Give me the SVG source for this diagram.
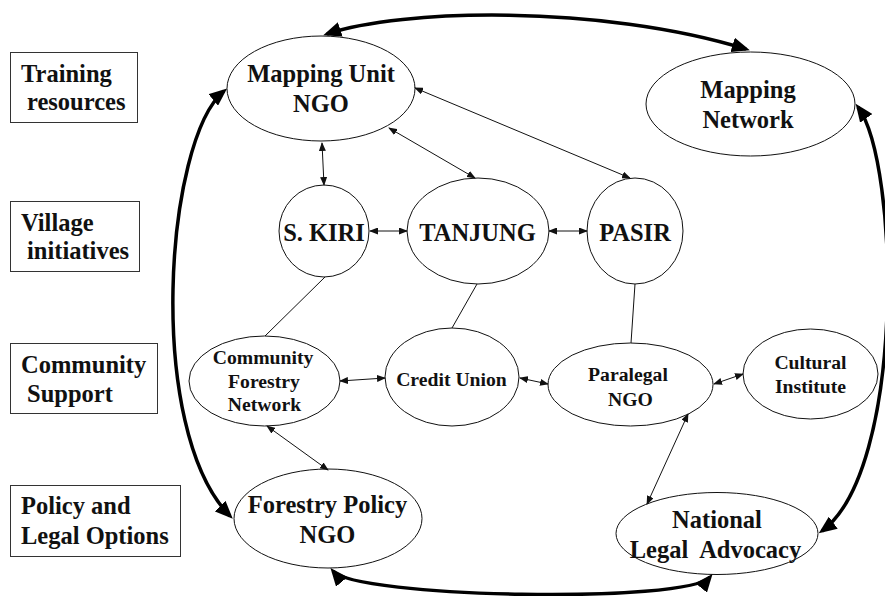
<svg xmlns="http://www.w3.org/2000/svg" width="885" height="596" viewBox="0 0 885 596">
  <style>
    .bg { fill: #ffffff; }
    .lane rect { fill: #ffffff; stroke: #333333; stroke-width: 1; }
    .lane text { font-family: "Liberation Serif", "Times New Roman", serif; font-weight: bold; font-size: 24.5px; fill: #111111; }
    .node ellipse { fill: #ffffff; stroke: #111111; stroke-width: 1; }
    .node text { font-family: "Liberation Serif", "Times New Roman", serif; font-weight: bold; fill: #111111; text-anchor: middle; }
    .big text { font-size: 24.5px; }
    .small text { font-size: 19.7px; }
    .link { fill: none; stroke: #111111; stroke-width: 1; }
    .arrow2 { marker-start: url(#tip); marker-end: url(#tip); }
    .flow { fill: none; stroke: #000000; stroke-width: 3.5; marker-start: url(#bigtip); marker-end: url(#bigtip); }
  </style>
  <defs>
    <marker id="tip" markerUnits="userSpaceOnUse" markerWidth="9" markerHeight="7" refX="8" refY="3.5" orient="auto-start-reverse">
      <path d="M0,0 L9,3.5 L0,7 z" fill="#111111"/>
    </marker>
    <marker id="bigtip" markerUnits="userSpaceOnUse" markerWidth="18" markerHeight="15" refX="14" refY="7.5" orient="auto-start-reverse">
      <path d="M0,0 L18,7.5 L0,15 z" fill="#000000"/>
    </marker>
  </defs>

  <rect class="bg" x="0" y="0" width="885" height="596"/>

  <!-- row labels -->
  <g id="lane-training" class="lane">
    <rect x="10.5" y="52.5" width="127" height="70"/>
    <text x="21" y="82">Training</text>
    <text x="27" y="110">resources</text>
  </g>
  <g id="lane-village" class="lane">
    <rect x="10.5" y="201.5" width="129" height="70"/>
    <text x="21" y="231">Village</text>
    <text x="27" y="259">initiatives</text>
  </g>
  <g id="lane-community" class="lane">
    <rect x="10.5" y="343.5" width="147" height="70"/>
    <text x="21" y="373">Community</text>
    <text x="27" y="402">Support</text>
  </g>
  <g id="lane-policy" class="lane">
    <rect x="10.5" y="485.5" width="170" height="71"/>
    <text x="21" y="514">Policy and</text>
    <text x="21" y="544">Legal Options</text>
  </g>

  <!-- nodes -->
  <g id="mapping-unit-ngo" class="node big">
    <ellipse cx="321" cy="88.5" rx="94" ry="52.5"/>
    <text x="321" y="82">Mapping Unit</text>
    <text x="321" y="112">NGO</text>
  </g>
  <g id="mapping-network" class="node big">
    <ellipse cx="750.5" cy="104" rx="104.5" ry="52"/>
    <text x="748" y="98">Mapping</text>
    <text x="748" y="128">Network</text>
  </g>
  <g id="s-kiri" class="node big">
    <ellipse cx="324" cy="231" rx="45" ry="46"/>
    <text x="324" y="241">S. KIRI</text>
  </g>
  <g id="tanjung" class="node big">
    <ellipse cx="478" cy="231" rx="71" ry="53"/>
    <text x="477.5" y="241">TANJUNG</text>
  </g>
  <g id="pasir" class="node big">
    <ellipse cx="635" cy="231" rx="48" ry="53"/>
    <text x="635" y="241">PASIR</text>
  </g>
  <g id="community-forestry-network" class="node small">
    <ellipse cx="264.5" cy="381" rx="75.5" ry="45"/>
    <text x="263" y="364">Community</text>
    <text x="264" y="388">Forestry</text>
    <text x="264.5" y="411">Network</text>
  </g>
  <g id="credit-union" class="node small">
    <ellipse cx="452" cy="377" rx="67" ry="49"/>
    <text x="451.5" y="386">Credit Union</text>
  </g>
  <g id="paralegal-ngo" class="node small">
    <ellipse cx="630.5" cy="384.5" rx="82.5" ry="41.5"/>
    <text x="628" y="381">Paralegal</text>
    <text x="630.5" y="406">NGO</text>
  </g>
  <g id="cultural-institute" class="node small">
    <ellipse cx="810.5" cy="374" rx="67.5" ry="45"/>
    <text x="810.5" y="369">Cultural</text>
    <text x="810.5" y="393">Institute</text>
  </g>
  <g id="forestry-policy-ngo" class="node big">
    <ellipse cx="328" cy="518.5" rx="94" ry="49.5"/>
    <text x="327.5" y="513">Forestry Policy</text>
    <text x="327.5" y="543">NGO</text>
  </g>
  <g id="national-legal-advocacy" class="node big">
    <ellipse cx="717" cy="533.5" rx="101" ry="41"/>
    <text x="717" y="528">National</text>
    <text x="715.5" y="558" xml:space="preserve">Legal  Advocacy</text>
  </g>

  <!-- connectors -->
  <g id="connectors">
    <line class="link arrow2" x1="322" y1="143" x2="324" y2="185"/>
    <line class="link arrow2" x1="389" y1="128" x2="475" y2="178"/>
    <line class="link arrow2" x1="415" y1="88" x2="630" y2="178"/>
    <line class="link arrow2" x1="370" y1="231" x2="407" y2="231"/>
    <line class="link arrow2" x1="549" y1="231" x2="587" y2="231"/>
    <line class="link" x1="325" y1="277" x2="265" y2="336"/>
    <line class="link" x1="477" y1="284" x2="452" y2="328"/>
    <line class="link" x1="635" y1="284" x2="631" y2="343"/>
    <line class="link arrow2" x1="340" y1="381" x2="385" y2="378"/>
    <line class="link arrow2" x1="520" y1="378" x2="548" y2="384"/>
    <line class="link arrow2" x1="714" y1="384" x2="743" y2="374"/>
    <line class="link arrow2" x1="267" y1="426" x2="328" y2="470"/>
    <line class="link arrow2" x1="688" y1="414" x2="647" y2="504"/>

    <path class="flow" d="M 327,34 C 400,9 600,4 746,49"/>
    <path class="flow" d="M 224,91 C 165,140 145,430 230,516"/>
    <path class="flow" d="M 858,107 C 900,165 905,470 822,531"/>
    <path class="flow" d="M 333,571 C 355,598 688,604 710,577"/>
  </g>
</svg>
